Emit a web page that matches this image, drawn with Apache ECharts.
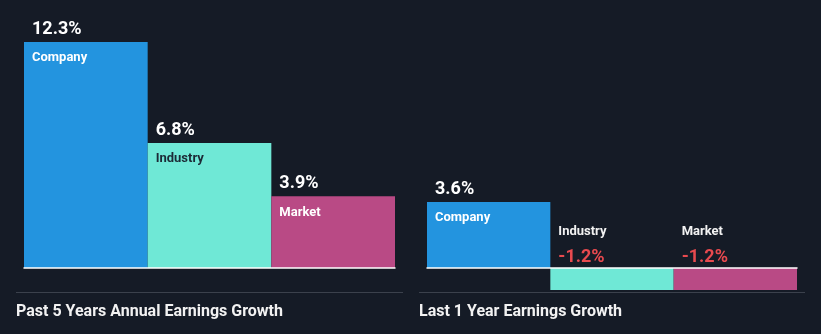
<!DOCTYPE html>
<html>
<head>
<meta charset="utf-8">
<script src="https://cdn.jsdelivr.net/npm/echarts@6/dist/echarts.min.js"></script>
<style>
html,body{margin:0;padding:0;background:#151b26;}
#chart{width:821px;height:334px;}
</style>
</head>
<body>
<div id="chart"></div>
<script>
const categories = ['Company', 'Industry', 'Market'];
const past5Values = [12.3, 6.8, 3.9];
const last1Values = [3.6, -1.2, -1.2];
const panelTitles = ['Past 5 Years Annual Earnings Growth', 'Last 1 Year Earnings Growth'];

const barColors = ['#2394df', '#6fe8d6', '#b94a85'];
const nameColorsInside = ['#ffffff', '#1c2a36', '#ffffff'];
const FONT = 'Roboto, "Noto Sans", sans-serif';

function buildData(values) {
  return values.map((v, i) => {
    const valueText = v + '%';
    const neg = v < 0;
    return {
      value: v,
      itemStyle: { color: barColors[i] },
      label: neg ? {
        show: true,
        position: [8, -49],
        formatter: '{n|' + categories[i] + '}\n{vn|' + valueText + '}',
        rich: {
          n: { fontFamily: FONT, fontSize: 13, fontWeight: 'bold', color: '#f2f2f2', lineHeight: 25 },
          vn: { fontFamily: FONT, fontSize: 18, fontWeight: 'bold', color: '#e84a4f', lineHeight: 26 }
        }
      } : {
        show: true,
        position: [8, -26],
        formatter: '{v|' + valueText + '}\n{n|' + categories[i] + '}',
        rich: {
          v: { fontFamily: FONT, fontSize: 18, fontWeight: 'bold', color: '#ffffff', lineHeight: 27 },
          n: { fontFamily: FONT, fontSize: 13, fontWeight: 'bold', color: nameColorsInside[i], lineHeight: 30 }
        }
      }
    };
  });
}

const chart = echarts.init(document.getElementById('chart'), null, { renderer: 'canvas' });
chart.setOption({
  backgroundColor: '#151b26',
  animation: false,
  title: [
    { text: panelTitles[0], left: 16, top: 304, padding: 0, textStyle: { fontFamily: FONT, fontSize: 16, fontWeight: 'bold', color: '#f2f2f2' } },
    { text: panelTitles[1], left: 419, top: 304, padding: 0, textStyle: { fontFamily: FONT, fontSize: 16, fontWeight: 'bold', color: '#f2f2f2' } }
  ],
  grid: [
    { left: 24, width: 371, top: 42, bottom: 66 },
    { left: 427, width: 370, top: 202, bottom: 44 }
  ],
  xAxis: [
    { type: 'category', gridIndex: 0, data: categories, z: 5,
      axisLine: { show: true, lineStyle: { color: '#ffffff', width: 1.5 } },
      axisTick: { show: false }, axisLabel: { show: false } },
    { type: 'category', gridIndex: 1, data: categories, z: 5,
      axisLine: { show: true, onZero: true, lineStyle: { color: '#ffffff', width: 1.5 } },
      axisTick: { show: false }, axisLabel: { show: false } }
  ],
  yAxis: [
    { type: 'value', gridIndex: 0, min: 0, max: 12.3, show: false, splitLine: { show: false } },
    { type: 'value', gridIndex: 1, min: -1.2, max: 3.6, show: false, splitLine: { show: false } }
  ],
  graphic: [
    { type: 'line', shape: { x1: 16, y1: 292.5, x2: 403, y2: 292.5 }, style: { stroke: '#3b414c', lineWidth: 1 } },
    { type: 'line', shape: { x1: 419, y1: 292.5, x2: 805, y2: 292.5 }, style: { stroke: '#3b414c', lineWidth: 1 } }
  ],
  series: [
    { type: 'bar', xAxisIndex: 0, yAxisIndex: 0, data: buildData(past5Values),
      barCategoryGap: '0%' },
    { type: 'bar', xAxisIndex: 1, yAxisIndex: 1, data: buildData(last1Values),
      barCategoryGap: '0%' }
  ]
});
</script>
</body>
</html>
